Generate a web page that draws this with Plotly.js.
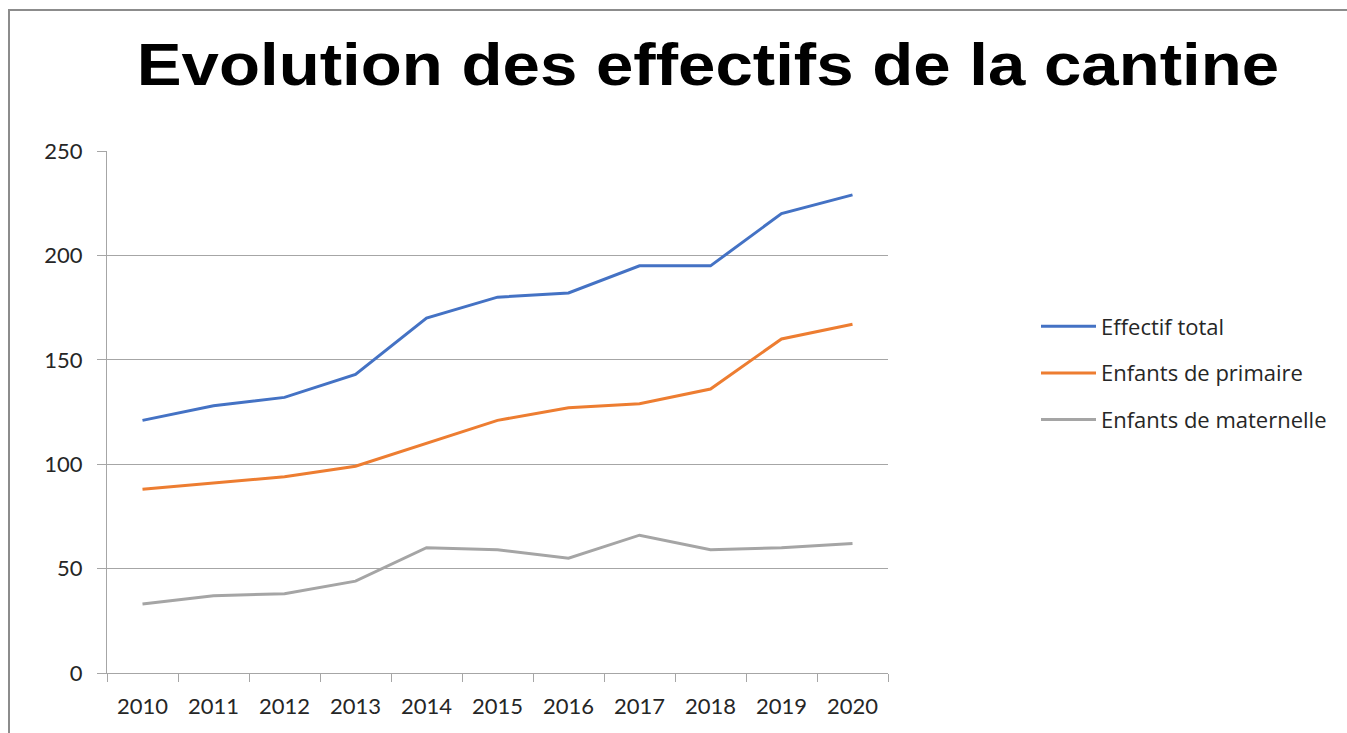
<!DOCTYPE html>
<html>
<head>
<meta charset="utf-8">
<script src="https://cdn.plot.ly/plotly-3.0.1.min.js"></script>
<style>
  html, body { margin: 0; padding: 0; background: #fff; }
  #wrap { position: relative; width: 1347px; height: 733px; overflow: hidden; }
  #chart { position: absolute; left: 0; top: 0; width: 1347px; height: 733px; }
  #frame { position: absolute; left: 8px; top: 9px; right: -5px; bottom: -5px;
           border-left: 2px solid #8c8c8c; border-top: 2px solid #8c8c8c; pointer-events: none; }
  #chart .gtitle { transform-box: fill-box; transform-origin: center; transform: scaleX(1.12); }
</style>
</head>
<body>
<div id="wrap">
  <div id="chart"></div>
  <div id="frame"></div>
</div>
<script>
const years = ["2010","2011","2012","2013","2014","2015","2016","2017","2018","2019","2020"];
const effectifTotal = [121,128,132,143,170,180,182,195,195,220,229];
const enfantsPrimaire = [88,91,94,99,110,121,127,129,136,160,167];
const enfantsMaternelle = [33,37,38,44,60,59,55,66,59,60,62];
const seriesNames = ["Effectif total","Enfants de primaire","Enfants de maternelle"];
const yTicks = [0,50,100,150,200,250];

const colors = ["#4472C4","#ED7D31","#A5A5A5"];
const allSeries = [effectifTotal, enfantsPrimaire, enfantsMaternelle];

const traces = allSeries.map((vals, i) => ({
  type: "scatter",
  mode: "lines",
  x: years,
  y: vals,
  name: seriesNames[i],
  legendgroup: "g" + i,
  line: { color: colors[i], width: 3 },
  hoverinfo: "x+y+name"
}));

const tickFont = { family: "Lato, 'Noto Sans', sans-serif", size: 22, color: "#262626" };

const layout = {
  width: 1347,
  height: 733,
  paper_bgcolor: "#ffffff",
  plot_bgcolor: "#ffffff",
  margin: { l: 107, r: 459, t: 151, b: 60, pad: 0 },
  title: {
    text: "Evolution des effectifs de la cantine",
    font: { family: "'Liberation Sans', Arial, sans-serif", size: 60, color: "#000000", weight: "bold" },
    xref: "container", yref: "container",
    x: 708 / 1347, xanchor: "center",
    y: 1 - 64 / 733, yanchor: "middle"
  },
  xaxis: {
    type: "category",
    range: [-0.5, 10.5],
    showgrid: false,
    showline: true,
    linecolor: "#a6a6a6",
    linewidth: 1,
    ticks: "outside",
    tickson: "boundaries",
    ticklen: 8,
    tickcolor: "#a6a6a6",
    tickwidth: 1,
    tickfont: tickFont,
    ticklabelstandoff: 14,
    zeroline: false,
    fixedrange: true
  },
  yaxis: {
    range: [0, 250],
    tickvals: yTicks,
    ticktext: yTicks.map(String),
    showgrid: true,
    gridcolor: "#a6a6a6",
    gridwidth: 1,
    showline: true,
    linecolor: "#a6a6a6",
    linewidth: 1,
    ticks: "outside",
    ticklen: 9,
    tickcolor: "#a6a6a6",
    tickwidth: 1,
    tickfont: tickFont,
    ticklabelstandoff: 10,
    zeroline: false,
    fixedrange: true
  },
  showlegend: true,
  legend: {
    x: (1036 - 107) / 781,
    xanchor: "left",
    y: (673 - 373) / 522,
    yanchor: "middle",
    traceorder: "grouped",
    tracegroupgap: 15,
    font: { family: "'Open Sans', 'Noto Sans', sans-serif", size: 22, color: "#262626" },
    bgcolor: "rgba(0,0,0,0)",
    itemwidth: 55
  }
};

Plotly.newPlot("chart", traces, layout, { displayModeBar: false });
</script>
</body>
</html>
